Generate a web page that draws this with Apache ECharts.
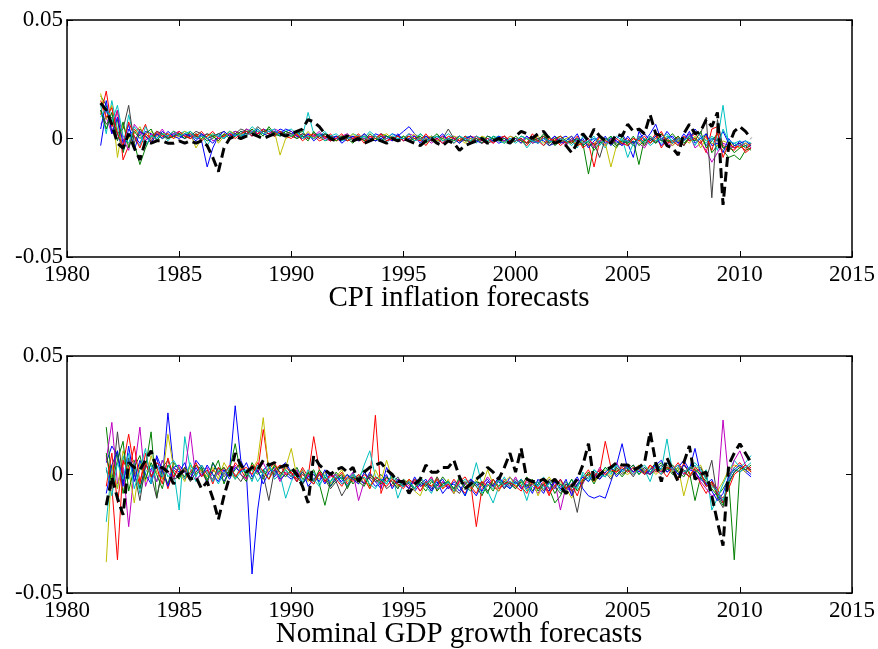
<!DOCTYPE html>
<html>
<head>
<meta charset="utf-8">
<script src="https://cdn.jsdelivr.net/npm/echarts@6/dist/echarts.min.js"></script>
<style>
html, body { margin: 0; padding: 0; background: #fff; }
#main { width: 878px; height: 649px; }
</style>
</head>
<body>
<div id="main"></div>
<script>
// quarterly forecast errors, values in units of 0.001
// CPI panel: 1981.5 .. 2010.5 (117 quarters), GDP panel: 1981.75 .. 2010.5 (116 quarters)
var cpiStart = 1981.5;
var gdpStart = 1981.75;

var cpiBlue = [-3,12,6,2, -5,4,1,-2, 3,2,0,3, 1,2,
  1,0,2,1, -1,-12,-4,1, 0,2,1,3, 2,3,2,4, 3,2,4,3,
  2,3,1,0, 1,2,0,1, 0,-1,1,0, 1,0,-1,2, 1,0,2,1,
  3,5,2,0, -1,1,0,-2, 0,1,-1,0, -2,0,-1,1, 0,-2,-1,0,
  -1,0,-2,1, 0,-1,-3,-2, 0,1,-1,2, -3,-1,0,-2, 1,-3,0,2,
  -2,-8,3,-1, 2,6,-1,3, 0,-2,2,-1, 4,1,-3,0, -1,3,-2,-4,
  -1,-3,-2];
var cpiGreen = [18,14,3,8, -6,2,-2,-11, -4,1,2,0, 1,3,
  2,1,0,2, 1,-1,0,2, 1,3,2,1, 4,2,3,1, 5,2,3,2,
  1,2,3,0, 2,1,-1,0, 1,0,2,-1, 0,1,0,-1, 2,1,0,1,
  0,1,-1,2, 0,-1,1,0, -1,0,-2,1, 0,-1,0,-2, 1,0,-1,-2,
  -1,1,0,-2, -1,0,1,-3, -1,-2,0,-1, -2,-15,-3,-1, 0,-2,-4,1,
  -3,-1,-11,0, -2,1,-1,0, 2,-1,-3,1, 0,-2,2,-6, -3,-5,-8,-7,
  -9,-5,-4];
var cpiRed = [10,20,5,12, -9,-3,4,1, 6,-2,2,1, 0,3,
  1,2,0,1, 3,0,1,-1, 2,1,3,2, 1,4,2,3, 2,3,1,2,
  3,1,2,0, 1,-1,0,2, -1,0,1,0, 2,-1,0,1, -1,0,1,-1,
  0,-1,1,0, -3,0,-1,1, 0,-2,0,-1, 1,0,-2,-1, 0,-1,1,-2,
  0,-1,-3,0, -2,1,-1,0, -3,-1,-2,1, -4,-2,-12,-1, -3,0,-2,-1,
  0,-3,1,-2, -1,2,-4,0, -2,1,-3,0, 2,-1,-6,4, 5,-3,-4,-5,
  -2,-6,-4];
var cpiCyan = [14,2,16,4, -4,10,0,-3, 5,1,3,2, -1,2,
  2,3,1,0, 2,-3,1,2, 0,2,3,1, 2,5,3,2, 3,1,2,3,
  4,2,1,11, 2,1,3,0, 1,-1,0,2, 1,0,3,1, 0,-2,1,0,
  1,-1,0,2, 0,1,-1,0, 2,0,-1,1, 0,-2,1,-1, 0,1,-2,0,
  -2,0,-4,-1, 0,-3,-1,1, -2,0,-1,-4, 1,-2,0,-1, -4,1,-2,0,
  -8,-2,1,0, -3,-1,-2,1, -1,-3,0,2, -1,0,-2,1, -1,14,-3,-2,
  -1,-3,-2];
var cpiMagenta = [6,9,2,12, 0,-5,6,3, -1,2,1,4, 0,2,
  3,1,2,0, 1,2,-1,0, 1,2,3,2, 4,3,2,3, 2,4,3,1,
  2,1,0,2, 1,3,0,-1, 0,1,2,0, -1,0,1,0, 2,0,-1,1,
  0,2,1,-1, 0,-2,0,1, -1,0,1,-1, 0,1,-1,0, -2,0,-1,1,
  0,-1,1,-2, -1,0,-2,1, -1,-3,0,-1, -2,0,-4,-1, 0,-2,-1,-3,
  -1,0,-2,-4, 0,-1,1,-2, -3,0,-1,2, -4,-2,-5,-10, -6,-2,-3,-4,
  -3,-2,-4];
var cpiYellow = [19,8,14,-8, 6,0,2,5, 0,3,1,2, 2,0,
  1,3,2,-4, 0,1,2,-2, 1,3,2,2, 3,2,4,2, 1,3,-7,0,
  1,2,0,3, 0,1,2,0, -1,1,0,2, 0,1,-1,0, 1,2,0,-1,
  1,0,2,-1, 0,1,-1,0, -1,1,0,-2, 0,-1,1,0, -1,0,-2,1,
  0,-2,0,-1, 1,-2,0,-1, -2,0,1,-3, -1,-3,-2,0, -2,-12,-3,-1,
  -2,0,-1,-3, 1,-1,2,0, -3,-1,0,-2, 1,-4,0,-2, -3,-1,-2,-3,
  -4,-2,-3];
var cpiGray = [12,6,9,2, 4,14,-2,4, 1,-1,3,2, 0,1,
  2,0,1,3, 2,0,1,2, 3,1,2,4, 3,2,5,3, 2,1,3,2,
  1,0,2,1, 0,2,1,-1, 1,0,-1,1, 0,2,0,-1, 1,-1,0,1,
  0,1,-1,0, 1,0,-2,0, 4,0,-1,0, 1,-1,0,-2, -1,0,1,-1,
  -1,0,-2,-1, 0,1,-3,-1, 0,-2,-1,0, -1,-3,-2,-8, 0,-1,-3,-2,
  -1,-2,0,-3, 1,-2,0,-1, -2,0,-3,1, 3,2,9,-25, 8,-4,-5,-3,
  -2,-4,-3];
var cpiBlue2 = [4,16,2,9, -2,6,-5,3, 1,-2,2,0, 3,1,
  0,2,1,-1, 2,0,-2,1, 3,1,2,0, 3,1,4,2, 1,3,2,4,
  3,1,0,2, -1,1,2,0, 1,-2,0,1, -1,2,0,-1, 0,1,-1,2,
  -1,0,1,-2, 1,-1,0,2, -1,0,-2,0, 1,-1,-2,0, -1,1,0,-1,
  0,-2,1,-1, -2,0,-1,1, -2,-1,1,-2, 0,-4,-1,1, -2,0,-1,-3,
  1,-2,0,2, -1,1,-3,0, 1,-2,-1,3, -2,0,2,-3, -2,-6,0,-3,
  -2,-1,-3];
var cpiGreen2 = [12,4,11,-1, 7,-4,3,0, 2,4,-1,2, 0,1,
  2,0,3,1, 0,2,1,-1, 2,0,1,3, 2,4,1,3, 4,2,1,3,
  2,0,1,-1, 3,0,2,1, -1,1,0,-2, 1,-1,2,0, -1,1,0,-1,
  1,-1,0,1, -2,0,2,-1, 0,-1,1,-1, -1,0,-2,1, 0,-1,0,-2,
  1,-1,-2,0, -1,2,-2,0, 1,-1,-2,0, -3,-1,-5,-2, -1,1,-3,-1,
  -2,1,-3,-1, 0,-2,2,-1, -1,1,-2,0, -1,3,-4,-1, 2,-4,-3,-6,
  -4,-3,-5];
var cpiRed2 = [16,9,13,2, -3,7,1,-4, 2,0,3,1, 2,0,
  3,1,0,2, -1,1,3,0, 1,2,0,2, 3,1,2,4, 2,1,3,1,
  0,2,-1,1, 2,0,1,-1, 0,2,-1,0, 1,-2,1,0, 2,-1,0,1,
  -1,1,0,-1, 2,-1,0,-2, 1,0,-1,1, -2,1,-1,0, -2,0,1,-1,
  -1,0,-2,2, -1,-3,0,-1, 1,-2,-1,-3, -2,0,-3,1, -1,-2,0,-2,
  -3,0,-1,1, -2,0,3,-2, -1,-3,1,-1, 0,-2,1,-5, 3,-8,-2,-4,
  -3,-5,-2];
var cpiCyan2 = [9,13,7,14, 1,-2,5,2, -3,1,0,2, 1,3,
  1,2,3,0, 1,0,2,1, 0,3,1,2, 1,3,4,2, 3,4,1,2,
  1,3,0,1, 0,2,-1,1, 2,0,1,-1, 0,1,-1,1, -1,0,2,0,
  0,2,-1,0, -1,0,1,-1, 0,-2,1,0, -1,1,0,-1, 1,-1,-2,0,
  -1,1,0,-1, -2,0,-1,-2, 0,-1,-3,0, -2,-1,1,-3, 0,-2,1,-1,
  -1,-3,0,-2, 1,-1,0,2, -2,0,-1,1, -3,1,-1,0, -5,4,-1,-2,
  -3,-1,-2];
var cpiActual = [15,12,6,-2, -4,2,-4,-9, -1,-2,-1,-1, -2,-2,
  -1,-2,-1,-2, -1,-3,-8,-14, -4,0,1,0, 1,2,1,0, 1,2,2,1,
  2,3,4,8, 7,5,2,0, -1,0,1,-1, 0,-2,-1,0, -1,-2,0,-1,
  0,-1,-2,-3, -1,0,-2,-3, -1,-2,-5,-3, -2,-1,0,-2, -1,0,-1,-2,
  1,3,2,0, 2,3,0,-2, -1,-3,-6,-2, 2,-1,4,1, -1,-2,2,1,
  6,3,4,2, 10,2,1,-3, -4,-7,2,6, 2,3,8,5, 11,-28,-3,3,
  5,3,0];

var gdpBlue = [5, 12,8,-3,6, 0,-6,4,2, 7,-2,26,3,
  4,1,-2,6, 3,-4,5,0, -3,2,29,6, 0,-42,-15,2, 4,-1,3,5,
  1,-3,2,-5, -2,0,-4,1, -3,-1,-5,0, -2,-4,1,-3, -6,3,-2,-4,
  -5,-3,-7,-4, -2,-6,-3,-8, -5,-4,-7,-3, -6,-9,-4,-2, -5,-3,-6,-1,
  -4,-2,-6,-3, -5,-8,-3,-6, -2,-7,-4,-1, -6,-9,-10,-9, -10,-3,4,13,
  2,4,1,3, 0,5,2,4, 1,3,6,2, 11,0,-4,-2, -8,-12,-3,1,
  3,1,-1];
var gdpGreen = [20, -2,10,-8,4, 6,-6,3,18, -10,2,-4,5,
  2,-1,4,0, 3,-2,1,6, -4,2,13,0, -3,5,1,-2, 3,0,4,2,
  -1,3,-2,0, 2,-4,-13,-3, 1,-2,0,-4, -1,2,-5,-2, 0,-3,-1,-5,
  -3,-6,-2,-4, -7,-3,-5,-1, -4,-8,-2,-6, -3,-5,-9,-4, -7,-2,-4,-6,
  -3,-5,-1,-7, -4,-2,-6,-12, -9,-4,-7,-5, -2,0,-4,1, -1,3,0,2,
  3,1,4,0, 2,5,1,3, 0,2,4,1, -11,-1,-5,-3, -9,-6,-2,-36,
  2,4,1];
var gdpRed = [8, -5,-36,4,17, 2,-4,9,-1, 5,3,-6,2,
  0,3,-2,4, 1,-3,2,0, 3,-1,5,2, -2,4,1,19, 2,5,0,3,
  1,-2,3,-1, 16,2,-3,0, -2,1,-4,-1, -3,0,-2,25, -8,-1,-5,-2,
  -3,-6,-2,-5, -4,-1,-7,-3, -6,-2,-5,-8, -4,-22,-6,-3, -5,-7,-2,-4,
  -2,-5,-8,-3, -6,-4,-9,-2, -5,-3,-7,-4, -1,2,-3,1, 14,3,1,4,
  2,0,3,1, 4,1,2,-1, 3,-2,5,0, 2,-4,-8,-3, -6,-12,-2,3,
  5,2,3];
var gdpCyan = [-20, 3,-6,8,-2, 5,-8,1,4, -3,6,-1,2,
  -15,16,2,-3, 1,-2,0,-4, 1,3,-2,4, 0,2,-3,1, 5,-2,0,-10,
  -3,2,0,-2, 1,-4,-1,-3, 0,-2,-5,1, -3,4,10,-1, -2,-4,0,-10,
  -4,-2,-6,-3, -5,-8,-2,-4, -3,-6,-5,-9, -4,5,-4,-7, -12,-5,-1,-6,
  -2,-4,-11,-3, -5,-1,-6,-3, -4,-7,-2,-5, 0,-3,2,-1, 3,0,4,2,
  1,3,0,2, -3,4,2,15, 1,3,0,2, 4,-1,2,-15, -10,-4,1,6,
  3,5,8];
var gdpMagenta = [6, 22,-4,3,-22, 2,20,-5,2, -3,6,1,-2,
  4,1,18,-2, 0,3,-3,1, 2,-1,4,0, -2,3,1,5, 0,2,-3,1,
  -1,2,-4,0, -2,1,-3,-1, 0,-4,-2,1, -11,-3,0,-2, -5,-1,-3,-6,
  -2,-5,-3,-7, -4,-1,-6,-3, -5,-8,-2,-4, -6,-3,-5,-1, -4,-7,-3,-5,
  -1,-6,-3,-5, -8,-4,-6,-3, -15,-5,-8,-2, -4,1,-2,3, 0,2,5,1,
  3,1,4,2, 0,3,1,5, 2,4,0,3, 1,-3,-6,-9, -8,23,-2,6,
  10,4,2];
var gdpYellow = [-37, 4,-6,10,2, -12,5,-3,8, 1,-2,17,3,
  1,-3,4,0, 2,-1,3,-2, 5,1,-2,3, 0,2,6,24, 1,4,-2,3,
  11,-1,2,-3, 0,-2,1,-4, -1,2,-3,0, -4,-1,-6,2, -3,6,-2,-5,
  -4,-2,-7,-9, -3,-5,-1,-6, -2,-8,-4,-3, -6,-2,-5,2, -4,-7,-3,-1,
  -5,-3,-7,-2, -9,-4,-1,-5, -3,-6,-10,-4, -2,1,-3,0, 2,-1,3,1,
  0,2,4,1, 3,0,2,4, 1,3,-9,0, 2,4,-2,-5, -7,-3,2,4,
  3,1,2];
var gdpGray = [2, -6,18,-3,7, 1,-11,4,0, -10,3,6,-2,
  -1,2,-3,1, 4,0,-2,3, -1,2,0,-3, 1,-2,3,0, -11,2,-1,4,
  0,-3,1,-2, -4,0,-2,-6, -3,-9,-5,-2, 0,-4,-1,-3, -2,-6,-4,-1,
  -5,-3,-6,-2, -4,-7,-1,-5, -3,-6,-8,-4, -2,-5,-3,-7, -4,-2,-6,-3,
  -6,-2,-5,-4, -3,-7,-2,-5, -8,-4,-6,-16, -3,-1,1,-2, 1,-2,3,0,
  2,-1,3,1, 0,2,4,1, 3,0,2,-1, 1,3,-2,6, -10,-14,0,2,
  1,3,2];
var gdpBlue2 = [-8, 4,10,-5,12, -3,6,0,-4, 8,2,-5,3,
  1,5,-2,3, -1,4,0,-3, 2,-2,3,1, 5,-1,2,-4, 1,3,-2,0,
  -2,1,-4,-1, 0,-3,2,-5, -1,-3,0,-2, -4,1,-2,-5, -3,0,-6,-2,
  -4,-6,-1,-5, -3,-7,-4,-2, -6,-3,-5,-9, -2,-4,-7,-3, -5,-1,-4,-6,
  -3,-6,-4,-8, -2,-5,-7,-3, -6,-2,-9,-4, -1,-3,0,-2, 1,3,-1,2,
  4,1,3,0, 2,4,6,1, 3,0,4,2, 1,-2,-4,-7, -11,-8,-1,2,
  4,2,0];
var gdpGreen2 = [9, -4,6,14,-7, 3,8,-2,5, 0,-6,4,1,
  -2,3,0,4, 2,-3,5,1, 3,-1,2,5, -1,3,0,2, -2,4,1,-1,
  2,-1,-4,1, -3,2,-1,-5, -2,0,-6,-1, -3,-5,0,-2, -4,-1,-3,-6,
  -2,-4,-6,-3, -5,-2,-7,-4, -3,-6,-1,-5, -7,-3,-4,-8, -2,-5,-3,-4,
  -6,-3,-5,-2, -7,-4,-3,-8, -4,-6,-2,-7, -3,1,-2,0, 3,1,2,-1,
  2,4,0,3, 1,3,5,2, 4,1,-1,3, 2,0,-3,-6, -9,-13,-4,1,
  3,2,4];
var gdpRed2 = [-5, 9,-12,6,1, 12,-3,5,-1, 3,-4,7,-1,
  3,-2,1,5, -1,2,-4,3, 0,4,-1,2, 3,0,5,1, -2,2,4,0,
  1,-3,0,-2, -4,1,-3,0, -2,-5,-1,-3, 0,-2,-6,-1, -3,-5,-2,-4,
  -6,-2,-4,-7, -3,-5,-2,-6, -4,-7,-3,-1, -5,-8,-3,-5, -2,-6,-4,-3,
  -5,-7,-2,-4, -6,-3,-8,-5, -2,-6,-4,-9, -2,0,-1,2, 0,2,1,3,
  1,3,2,0, 4,2,0,3, 2,5,1,-1, 3,1,-5,-4, -8,-10,-6,0,
  2,4,1];
var gdpCyan2 = [3, -9,5,-2,9, -6,2,11,-4, 4,-1,3,6,
  2,-2,5,-1, 4,1,-3,2, 0,3,-2,1, 2,-3,4,0, 3,1,-1,2,
  -1,0,-3,2, -2,-5,0,-3, -1,-4,-2,0, -3,-1,-4,-6, -2,-4,0,-3,
  -5,-3,-6,-1, -4,-2,-6,-5, -3,-7,-4,-2, -5,-3,-8,-4, -6,-2,-5,-3,
  -4,-2,-7,-5, -3,-6,-4,-2, -7,-3,-5,-6, 1,-2,2,0, -1,2,4,1,
  3,0,2,4, 1,3,0,5, 2,4,1,3, 5,2,-2,-5, -7,-11,-2,3,
  1,3,5];
var gdpActual = [-13, -1,-10,-17,5, 3,2,6,10, 2,3,1,-4,
  0,2,-2,-1, -6,-3,-10,-19, -9,-1,9,4, 1,3,2,6, 4,5,3,4,
  3,0,-5,-12, 8,4,2,0, 2,3,1,3, -3,1,3,4, 5,2,0,-3,
  -3,-8,-4,-2, 4,1,1,3, 3,6,-1,-6, -4,-2,0,3, 1,-2,3,9,
  1,11,-2,-3, -3,-2,-4,-2, -5,-8,-5,-2, 4,13,-3,0, 2,3,5,4,
  4,2,3,5, 18,5,-3,7, 2,-3,5,12, -2,0,1,-9, -20,-30,4,9,
  13,9,5];

var yearTicks = [1980, 2015, 5];
var valueTicks = [-0.05, 0.05, 0.05];
var panelTitles = ['CPI inflation forecasts', 'Nominal GDP growth forecasts'];

var colors = ['#0000FF', '#008000', '#FF0000', '#00BFBF', '#BF00BF', '#BFBF00', '#404040',
              '#0000FF', '#008000', '#FF0000', '#00BFBF'];
var cpiSets = [cpiBlue, cpiGreen, cpiRed, cpiCyan, cpiMagenta, cpiYellow, cpiGray,
               cpiBlue2, cpiGreen2, cpiRed2, cpiCyan2];
var gdpSets = [gdpBlue, gdpGreen, gdpRed, gdpCyan, gdpMagenta, gdpYellow, gdpGray,
               gdpBlue2, gdpGreen2, gdpRed2, gdpCyan2];

var myChart = echarts.init(document.getElementById('main'));
var fontName = '"Liberation Serif", "Times New Roman", serif';

function toPoints(vals, start) {
    var pts = [];
    for (var i = 0; i < vals.length; i++) {
        pts.push([start + i * 0.25, vals[i] / 1000]);
    }
    return pts;
}

function xAxisFor(gi, pos, showLabel) {
    return {
        type: 'value', gridIndex: gi, position: pos,
        min: yearTicks[0], max: yearTicks[1], interval: yearTicks[2],
        axisLine: { show: true, onZero: false, lineStyle: { color: '#000', width: 1.5 } },
        axisTick: { show: true, inside: true, length: 6, lineStyle: { color: '#000', width: 1 } },
        axisLabel: {
            show: showLabel, color: '#000', fontFamily: fontName, fontSize: 23, margin: 6,
            formatter: function (v) { return String(v); }
        },
        splitLine: { show: false }
    };
}

function yAxisFor(gi, pos, showLabel) {
    return {
        type: 'value', gridIndex: gi, position: pos,
        min: valueTicks[0], max: valueTicks[1], interval: valueTicks[2],
        axisLine: { show: true, onZero: false, lineStyle: { color: '#000', width: 1.5 } },
        axisTick: { show: true, inside: true, length: 6, lineStyle: { color: '#000', width: 1 } },
        axisLabel: {
            show: showLabel, color: '#000', fontFamily: fontName, fontSize: 23, margin: 4,
            formatter: function (v) { return Math.abs(v) < 1e-9 ? '0' : v.toFixed(2); }
        },
        splitLine: { show: false }
    };
}

var series = [];
function addPanel(sets, actual, start, xi, yi) {
    for (var i = 0; i < sets.length; i++) {
        series.push({
            type: 'line', xAxisIndex: xi, yAxisIndex: yi,
            data: toPoints(sets[i], start),
            showSymbol: false, silent: true, z: 2,
            lineStyle: { color: colors[i], width: 1 }
        });
    }
    series.push({
        type: 'line', xAxisIndex: xi, yAxisIndex: yi,
        data: toPoints(actual, start),
        showSymbol: false, silent: true, z: 5,
        lineStyle: { color: '#000', width: 3, type: [10, 5] }
    });
}
addPanel(cpiSets, cpiActual, cpiStart, 0, 0);
addPanel(gdpSets, gdpActual, gdpStart, 2, 2);

var option = {
    animation: false,
    backgroundColor: '#fff',
    grid: [
        { left: 67, top: 20, width: 785, height: 237 },
        { left: 67, top: 356, width: 785, height: 237 }
    ],
    xAxis: [xAxisFor(0, 'bottom', true), xAxisFor(0, 'top', false), xAxisFor(1, 'bottom', true), xAxisFor(1, 'top', false)],
    yAxis: [yAxisFor(0, 'left', true), yAxisFor(0, 'right', false), yAxisFor(1, 'left', true), yAxisFor(1, 'right', false)],
    graphic: [
        { type: 'text', x: 459, y: 298, style: { text: panelTitles[0], font: '29px ' + fontName, fill: '#000', align: 'center', verticalAlign: 'middle' } },
        { type: 'text', x: 459, y: 634, style: { text: panelTitles[1], font: '29px ' + fontName, fill: '#000', align: 'center', verticalAlign: 'middle' } }
    ],
    series: series
};
myChart.setOption(option);
</script>
</body>
</html>
